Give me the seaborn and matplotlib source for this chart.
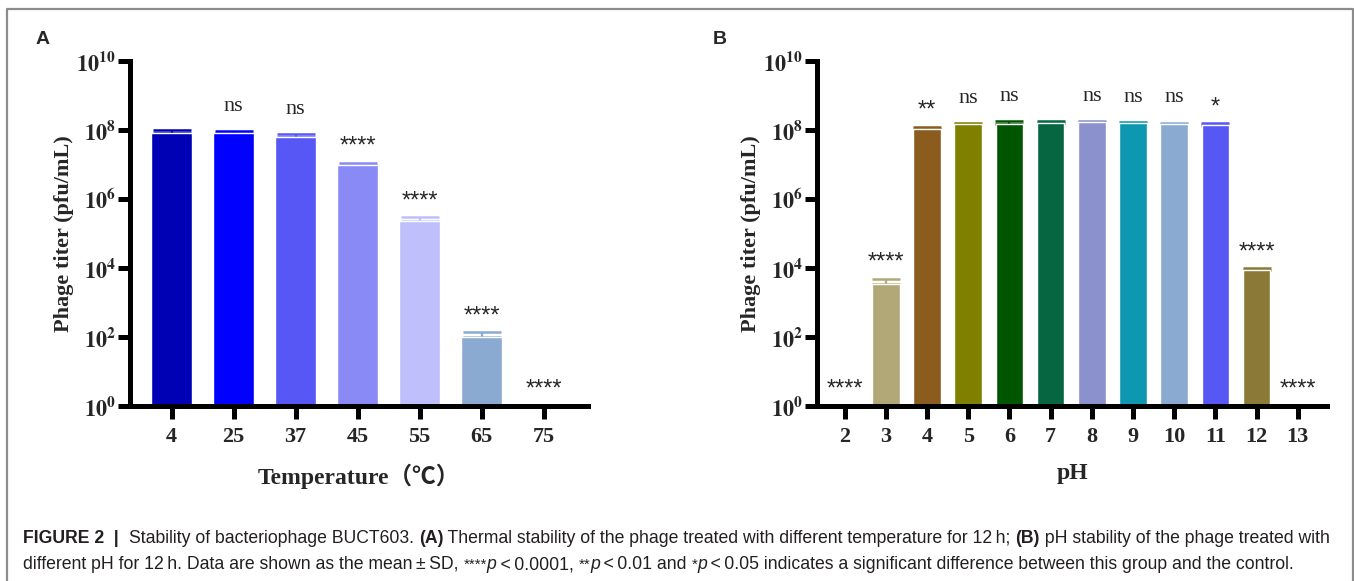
import numpy as np
import pandas as pd
import matplotlib
matplotlib.use('Agg')
import matplotlib.pyplot as plt
from matplotlib.lines import Line2D
import seaborn as sns

# panel A: temperature
temp_labels = ['4', '25', '37', '45', '55', '65', '75']
temp_titer = [8.2e7, 8.4e7, 6.4e7, 9.4e6, 2.3e5, 1.0e2, 0]
temp_sd = [1.6e7, 0.9e7, 1.4e7, 1.8e6, 0.7e5, 0.35e2, 0]
temp_sig = ['', 'ns', 'ns', '****', '****', '****', '****']
temp_colors = ['#0000b4', '#0000ff', '#5757f5', '#8a8af7', '#bfbffb', '#8aaad2', '#8aaad2']

# panel B: pH
ph_labels = ['2', '3', '4', '5', '6', '7', '8', '9', '10', '11', '12', '13']
ph_titer = [0, 3.5e3, 1.07e8, 1.46e8, 1.52e8, 1.63e8, 1.67e8, 1.6e8, 1.49e8, 1.43e8, 8.9e3, 0]
ph_sd = [0, 1.4e3, 0.18e8, 0.14e8, 0.27e8, 0.19e8, 0.19e8, 0.14e8, 0.14e8, 0.17e8, 1.1e3, 0]
ph_sig = ['****', '****', '**', 'ns', 'ns', '', 'ns', 'ns', 'ns', '*', '****', '****']
ph_colors = ['#b2a777', '#b2a777', '#8c5b1e', '#7f7f00', '#005600', '#056641', '#8a91cc',
             '#0d97b1', '#8aaad2', '#5757f5', '#8b7a37', '#8b7a37']

sns.set_style('white')
plt.rcParams['mathtext.fontset'] = 'stix'
SERIF = 'Liberation Serif'

fig = plt.figure(figsize=(13.54, 5.81), dpi=100)
axA = fig.add_axes([0.0960, 0.3017, 0.3380, 0.5933])
axB = fig.add_axes([0.6034, 0.3017, 0.3770, 0.5933])


def draw_panel(ax, labels, titer, sd, sig, colors, xlabel, xright, capsize):
    df = pd.DataFrame({'group': labels, 'titer': titer})
    df['titer'] = df['titer'].replace(0, np.nan)
    ax.set_yscale('log')
    sns.barplot(data=df, x='group', y='titer', hue='group', order=labels, hue_order=labels,
                palette=colors, legend=False, width=0.67, saturation=1, errorbar=None, ax=ax)
    for i in range(len(labels)):
        if sd[i] > 0:
            ax.errorbar(i, titer[i], yerr=[[0], [sd[i]]], fmt='none', ecolor=colors[i],
                        elinewidth=1.6, capsize=capsize, capthick=1.8, zorder=0.9)
    for i, s in enumerate(sig):
        if not s:
            continue
        top = max(titer[i] + sd[i], 1)
        if s == 'ns':
            ax.annotate(s, (i, top), xytext=(0, 14.5), textcoords='offset points',
                        ha='center', va='baseline', family=SERIF, fontsize=16)
        else:
            ax.annotate(s, (i, top), xytext=(0, 7), textcoords='offset points',
                        ha='center', va='baseline', family='Liberation Sans', fontsize=17)
    ax.set_ylim(1, 1e10)
    ax.set_xlim(-0.67, len(labels) - 1 + xright)
    ax.set_yticks([1e0, 1e2, 1e4, 1e6, 1e8, 1e10])
    ax.set_yticklabels([r'$\mathbf{10^{%d}}$' % k for k in range(0, 11, 2)], fontsize=16)
    ax.yaxis.set_minor_locator(matplotlib.ticker.NullLocator())
    for lbl in ax.get_xticklabels():
        lbl.set_fontfamily(SERIF)
        lbl.set_fontweight('bold')
        lbl.set_fontsize(16)
    sns.despine(ax=ax)
    for side in ['left', 'bottom']:
        ax.spines[side].set_linewidth(3.6)
        ax.spines[side].set_color('black')
    ax.tick_params(axis='both', which='major', direction='out', length=9, width=3.6,
                   color='black', left=True, bottom=True)
    ax.tick_params(axis='y', pad=1)
    ax.tick_params(axis='x', pad=6)
    ax.set_ylabel('Phage titer (pfu/mL)', family=SERIF, fontweight='bold', fontsize=16, labelpad=2)
    ax.set_xlabel(xlabel, family=[SERIF, 'Noto Sans CJK SC'], fontweight='bold', fontsize=17,
                  labelpad=12)


draw_panel(axA, temp_labels, temp_titer, temp_sd, temp_sig, temp_colors,
           'Temperature（℃）', 0.71, 14)
draw_panel(axB, ph_labels, ph_titer, ph_sd, ph_sig, ph_colors, 'pH', 0.72, 10)

# panel letters
fig.text(43 / 1354, 1 - 40 / 581, 'A', family='Liberation Sans', fontweight='bold',
         fontsize=14, ha='center', va='center')
fig.text(720 / 1354, 1 - 40 / 581, 'B', family='Liberation Sans', fontweight='bold',
         fontsize=14, ha='center', va='center')

# frame around the panels
x0, x1, ytop = 7 / 1354, 1353 / 1354, 1 - 9 / 581
fig.add_artist(Line2D([x0, x0, x1, x1], [0, ytop, ytop, 0], transform=fig.transFigure,
                      color='#8c8c8c', lw=1.6))

# caption
cap_size = 12.7
cap_color = '#231f20'
line1 = [('FIGURE 2', 'bold', 'normal', 1), ('  |  ', 'bold', 'normal', 1),
         ('Stability of bacteriophage BUCT603. ', 'normal', 'normal', 1),
         ('(A)', 'bold', 'normal', 1),
         (' Thermal stability of the phage treated with different temperature for 12\u2009h; ',
          'normal', 'normal', 1),
         ('(B)', 'bold', 'normal', 1),
         (' pH stability of the phage treated with', 'normal', 'normal', 1)]
line2 = [('different pH for 12\u2009h. Data are shown as the mean\u2009±\u2009SD, ', 'normal', 'normal', 1),
         ('****', 'normal', 'normal', 0.85), ('p', 'normal', 'italic', 1),
         ('\u2009<\u20090.0001, ', 'normal', 'normal', 1),
         ('**', 'normal', 'normal', 0.85), ('p', 'normal', 'italic', 1),
         ('\u2009<\u20090.01 and ', 'normal', 'normal', 1),
         ('*', 'normal', 'normal', 0.85), ('p', 'normal', 'italic', 1),
         ('\u2009<\u20090.05 indicates a significant difference between this group and the control.',
          'normal', 'normal', 1)]

renderer = fig.canvas.get_renderer()


def put_line(segments, x_px, y_px):
    x = x_px
    for txt, weight, style, scale in segments:
        t = fig.text(x / 1354, 1 - y_px / 581, txt, family='Liberation Sans', fontweight=weight,
                     fontstyle=style, fontsize=cap_size * scale, color=cap_color,
                     ha='left', va='baseline')
        x += t.get_window_extent(renderer=renderer).width


put_line(line1, 23, 543)
put_line(line2, 23, 569)

fig.savefig('out.png', dpi=100, facecolor='white')
